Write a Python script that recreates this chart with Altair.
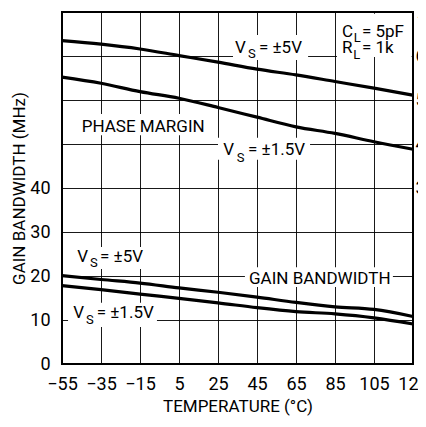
import altair as alt
import pandas as pd

# ---------------- data ----------------
temps = [-55, -35, -15, 5, 25, 45, 65, 85, 105, 125]
gbw_5v = [20.1, 19.2, 18.4, 17.3, 16.3, 15.2, 14.0, 13.0, 12.4, 10.8]
gbw_1v5 = [17.8, 16.9, 15.9, 14.9, 13.9, 12.8, 11.9, 11.4, 10.5, 9.1]
pm_5v = [63.5, 62.7, 61.6, 60.1, 58.6, 57.0, 55.7, 54.2, 52.7, 51.1]
pm_1v5 = [55.2, 53.8, 51.9, 50.4, 48.3, 46.1, 43.9, 42.4, 40.5, 38.8]

x_ticks = [-55, -35, -15, 5, 25, 45, 65, 85, 105, 125]
y_ticks = [0, 10, 20, 30, 40, 50, 60, 70, 80]
pm_ticks = [30, 40, 50, 60, 70]

FONT = "Roboto"

gbw_df = pd.DataFrame({
    "T": temps * 2,
    "v": gbw_5v + gbw_1v5,
    "s": ["±5V"] * len(temps) + ["±1.5V"] * len(temps),
})
pm_df = pd.DataFrame({
    "T": temps * 2,
    "v": pm_5v + pm_1v5,
    "s": ["±5V"] * len(temps) + ["±1.5V"] * len(temps),
})

# annotation pieces (main text and subscripts), anchored in data units
main_T = [33.7, 46.0, 88.6, 98.8, 88.6, 98.8, -44.9, 27.7, 40.4, 40.9, -47.2, -35.5, -49.2, -37.2]
main_v = [70.7, 70.7, 74.4, 74.4, 70.6, 70.6, 52.8, 47.5, 47.5, 18.2, 23.1, 23.1, 10.4, 10.4]
main_t = ["V", "= ±5V", "C", "= 5pF", "R", "= 1k", "PHASE MARGIN", "V", "= ±1.5V",
          "GAIN BANDWIDTH", "V", "= ±5V", "V", "= ±1.5V"]
sub_T = [40.4, 94.6, 94.4, 34.6, -40.6, -42.7]
sub_v = [69.5, 73.2, 69.3, 46.0, 22.0, 9.0]
sub_t = ["S", "L", "L", "S", "S", "S"]

box_T1 = [32.7, 86.0, -46.3, 25.0, 38.8, -48.8, -51.9]
box_T2 = [71.2, 124.3, 17.8, 72.2, 114.7, -11.9, -6.3]
box_v1 = [69.1, 69.8, 52.0, 46.4, 17.5, 21.6, 8.4]
box_v2 = [74.8, 79.6, 56.8, 51.4, 22.0, 26.6, 13.9]

main_df = pd.DataFrame({"T": main_T, "v": main_v, "t": main_t})
sub_df = pd.DataFrame({"T": sub_T, "v": sub_v, "t": sub_t})
box_df = pd.DataFrame({"T1": box_T1, "T2": box_T2, "v1": box_v1, "v2": box_v2})

# ---------------- scales / axes ----------------
xscale = alt.Scale(domain=[-55, 125], nice=False, zero=False)
yscale = alt.Scale(domain=[0, 80], nice=False, zero=False)
pmscale = alt.Scale(domain=[-10, 70], nice=False, zero=False)

xaxis = alt.Axis(values=x_ticks, title="TEMPERATURE (°C)", grid=True, domain=False,
                 ticks=False, labelFlush=False, labelOverlap=False, labelPadding=11,
                 titlePadding=5, titleFontSize=17)
yaxis = alt.Axis(values=y_ticks, title="GAIN BANDWIDTH (MHz)", grid=True, domain=False,
                 ticks=False, labelExpr="datum.value <= 40 ? datum.label : ''",
                 labelOverlap=False, labelPadding=12, titlePadding=1, titleFontSize=17)
pmaxis = alt.Axis(values=pm_ticks, title="PHASE MARGIN (DEG)", grid=False, domain=False,
                  ticks=False, labelOverlap=False, labelPadding=2, orient="right")

X = alt.X("T:Q", scale=xscale, axis=xaxis)
Y = alt.Y("v:Q", scale=yscale, axis=yaxis)

gbw_lines = alt.Chart(gbw_df).mark_line(color="black", strokeWidth=3.2,
                                        interpolate="monotone").encode(
    x=X, y=Y, detail="s:N")

boxes = alt.Chart(box_df).mark_rect(color="white").encode(
    x=alt.X("T1:Q", scale=xscale, axis=xaxis), x2="T2:Q",
    y=alt.Y("v1:Q", scale=yscale, axis=yaxis), y2="v2:Q")

main_text = alt.Chart(main_df).mark_text(font=FONT, fontSize=17, align="left",
                                         baseline="alphabetic", color="black").encode(
    x=X, y=Y, text="t:N")

sub_text = alt.Chart(sub_df).mark_text(font=FONT, fontSize=13, align="left",
                                       baseline="alphabetic", color="black").encode(
    x=X, y=Y, text="t:N")

left = alt.layer(gbw_lines, boxes, main_text, sub_text)

pm_lines = alt.Chart(pm_df).mark_line(color="black", strokeWidth=3.2,
                                      interpolate="monotone").encode(
    x=X, y=alt.Y("v:Q", scale=pmscale, axis=pmaxis), detail="s:N")

chart = alt.layer(left, pm_lines).resolve_scale(y="independent").properties(
    width=351, height=352,
    autosize=alt.AutoSizeParams(type="none"),
    padding={"left": 54, "top": 4, "right": 5, "bottom": 52},
).configure_view(stroke="black", strokeWidth=2).configure_axis(
    labelFont=FONT, titleFont=FONT, labelFontSize=18, titleFontSize=17,
    labelColor="black", titleColor="black", titleFontWeight="normal",
    gridColor="black", gridWidth=1, gridOpacity=0.9,
)

chart.save("out.html", embed_options={"renderer": "svg", "actions": False})
